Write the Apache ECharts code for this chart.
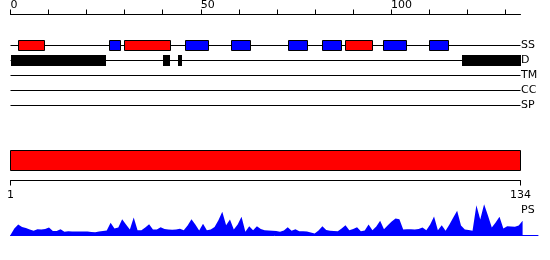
<!DOCTYPE html>
<html><head><meta charset="utf-8">
<script src="https://cdn.jsdelivr.net/npm/echarts@6/dist/echarts.min.js"></script>
<style>html,body{margin:0;padding:0;background:#fff}#c{width:550px;height:260px}</style>
</head><body><div id="c"></div>
<script>
// ---- data ----
const tracks = ['SS', 'D', 'TM', 'CC', 'SP'];
const topTicks = [0, 10, 20, 30, 40, 50, 60, 70, 80, 90, 100, 110, 120, 130];
const topLabels = [0, 50, 100];
const ssHelix = [[2, 9], [30, 42], [88, 95]];                                   // red boxes
const ssStrand = [[26, 29], [46, 52], [58, 63], [73, 78], [82, 87], [98, 104], [110, 115]]; // blue boxes
const disorder = [[0, 25], [40, 42], [44, 45], [118.5, 134]];                 // black boxes
const seqRange = [1, 134];
const psLabel = 'PS';
const psValues = [
  0.5, 7, 11, 8.5, 7.5, 6, 4.7, 6.3, 6, 6.5,
  8, 4.5, 4.5, 6.3, 3.7, 4.3, 4, 4, 4, 4,
  4, 3.5, 3.3, 4, 4.5, 5, 12.7, 7, 8, 16.3,
  11, 6, 18, 5.3, 5.3, 8, 11.3, 6, 6, 8.3,
  6.5, 6, 5.7, 6, 6.7, 5.3, 10, 16.3, 11, 5,
  11.7, 5.3, 6, 8.5, 15.3, 23.7, 10.3, 16, 6, 11,
  18.7, 3.7, 9.3, 5.3, 9.3, 6.5, 5.3, 5, 4.7, 4.5,
  3.7, 5, 8.3, 4.7, 6.3, 4.3, 4.2, 4, 3, 2,
  5, 9.3, 5.5, 4.7, 4.5, 4.3, 7, 10.3, 5.3, 6.5,
  8.3, 4.3, 5, 11, 5.3, 9, 14.7, 6.3, 10.3, 14,
  17, 16.3, 6, 6.3, 6.2, 6, 6.5, 8, 5.3, 11,
  19, 5.3, 10.3, 4.7, 11, 18, 24.7, 10, 6, 5.5,
  4.7, 30.3, 16, 31.3, 20, 8, 13, 18.7, 7, 9.3,
  9, 8.7, 10, 14.7
];

// ---- build ----
const FONT = 'DejaVu Sans';
const boxData = [];
ssHelix.forEach(r => boxData.push([r[0], 0, r[1], 0]));
ssStrand.forEach(r => boxData.push([r[0], 0, r[1], 1]));
disorder.forEach(r => boxData.push([r[0], 1, r[1], 2]));
const lineData = tracks.map((t, i) => [topTicks[0], i, seqRange[1]]);
const psData = psValues.map((v, i) => [seqRange[0] + i, v]);

function px(v) { return Math.round(v - 0.5) + 0.5; }

const chart = echarts.init(document.getElementById('c'), null, { renderer: 'canvas' });
chart.setOption({
  animation: false,
  backgroundColor: '#fff',
  grid: [
    { left: 10.5, right: 29.5, top: 38, height: 75 },
    { left: 10.5, right: 29.5, top: 150.5, height: 30 },
    { left: 10.5, right: 12, top: 200, height: 35.5 }
  ],
  xAxis: [
    {
      gridIndex: 0, type: 'value', min: 0, max: 134, position: 'top', offset: 23.5,
      axisLine: { show: true, lineStyle: { color: '#000', width: 1 } },
      axisTick: { show: true, length: 5, customValues: topTicks, lineStyle: { color: '#000', width: 1 } },
      axisLabel: { customValues: topLabels, align: 'left', verticalAlign: 'middle', margin: 9,
        color: '#000', fontFamily: FONT, fontSize: 11 },
      splitLine: { show: false }
    },
    {
      gridIndex: 1, type: 'value', min: seqRange[0], max: seqRange[1], position: 'bottom',
      axisLine: { show: true, lineStyle: { color: '#000', width: 1 } },
      axisTick: { show: true, length: 5, customValues: seqRange, lineStyle: { color: '#000', width: 1 } },
      axisLabel: { customValues: seqRange, align: 'center', verticalAlign: 'middle', margin: 14.5,
        color: '#000', fontFamily: FONT, fontSize: 11 },
      splitLine: { show: false }
    },
    {
      gridIndex: 2, type: 'value', min: seqRange[0], max: 138, position: 'bottom',
      axisLine: { show: true, onZero: false, lineStyle: { color: '#0000ff', width: 1 } },
      axisTick: { show: false }, axisLabel: { show: false }, splitLine: { show: false }
    }
  ],
  yAxis: [
    {
      gridIndex: 0, type: 'category', data: tracks, inverse: true, position: 'right',
      axisLine: { show: false }, axisTick: { show: false }, splitLine: { show: false },
      axisLabel: { margin: 0.5, align: 'left', verticalAlign: 'middle', color: '#000', fontFamily: FONT, fontSize: 11 }
    },
    { gridIndex: 1, type: 'value', min: 0, max: 1, show: false },
    { gridIndex: 2, type: 'value', min: 0, max: 35.5, show: false }
  ],
  graphic: [
    { type: 'text', x: 521, y: 210.5, style: { text: psLabel, fill: '#000', font: '11px "DejaVu Sans"', align: 'left', verticalAlign: 'middle' } }
  ],
  series: [
    {
      type: 'custom', xAxisIndex: 0, yAxisIndex: 0, z: 1,
      encode: { x: [0, 2], y: 1 },
      data: lineData,
      renderItem: function (params, api) {
        const p0 = api.coord([api.value(0), api.value(1)]);
        const p1 = api.coord([api.value(2), api.value(1)]);
        const y = px(p0[1]);
        return { type: 'line', shape: { x1: p0[0], y1: y, x2: p1[0], y2: y },
          style: { stroke: '#000', lineWidth: 1 } };
      }
    },
    {
      type: 'custom', xAxisIndex: 0, yAxisIndex: 0, z: 2,
      encode: { x: [0, 2], y: 1 },
      data: boxData,
      renderItem: function (params, api) {
        const p0 = api.coord([api.value(0), api.value(1)]);
        const p1 = api.coord([api.value(2), api.value(1)]);
        const k = api.value(3);
        const y = px(p0[1]);
        if (k === 2) {
          const x0 = Math.round(p0[0]), x1 = Math.round(p1[0]);
          return { type: 'rect', shape: { x: x0, y: y - 5.5, width: x1 - x0, height: 11 },
            style: { fill: '#000' } };
        }
        const x0 = px(p0[0]), x1 = px(p1[0]);
        return { type: 'rect', shape: { x: x0, y: y - 5, width: x1 - x0, height: 10 },
          style: { fill: k === 0 ? '#ff0000' : '#0000ff', stroke: '#000', lineWidth: 1 } };
      }
    },
    {
      type: 'custom', xAxisIndex: 1, yAxisIndex: 1,
      encode: { x: [0, 1] },
      data: [[seqRange[0], seqRange[1]]],
      renderItem: function (params, api) {
        const x0 = px(api.coord([api.value(0), 0])[0]);
        const x1 = px(api.coord([api.value(1), 0])[0]);
        const cs = params.coordSys;
        return { type: 'rect', shape: { x: x0, y: cs.y, width: x1 - x0, height: 20 },
          style: { fill: '#ff0000', stroke: '#000', lineWidth: 1 } };
      }
    },
    {
      type: 'line', xAxisIndex: 2, yAxisIndex: 2,
      data: psData, showSymbol: false, symbol: 'none',
      lineStyle: { width: 0, color: '#0000ff' },
      itemStyle: { color: '#0000ff' },
      areaStyle: { color: '#0000ff', opacity: 1 }
    }
  ]
});
</script>
</body></html>
